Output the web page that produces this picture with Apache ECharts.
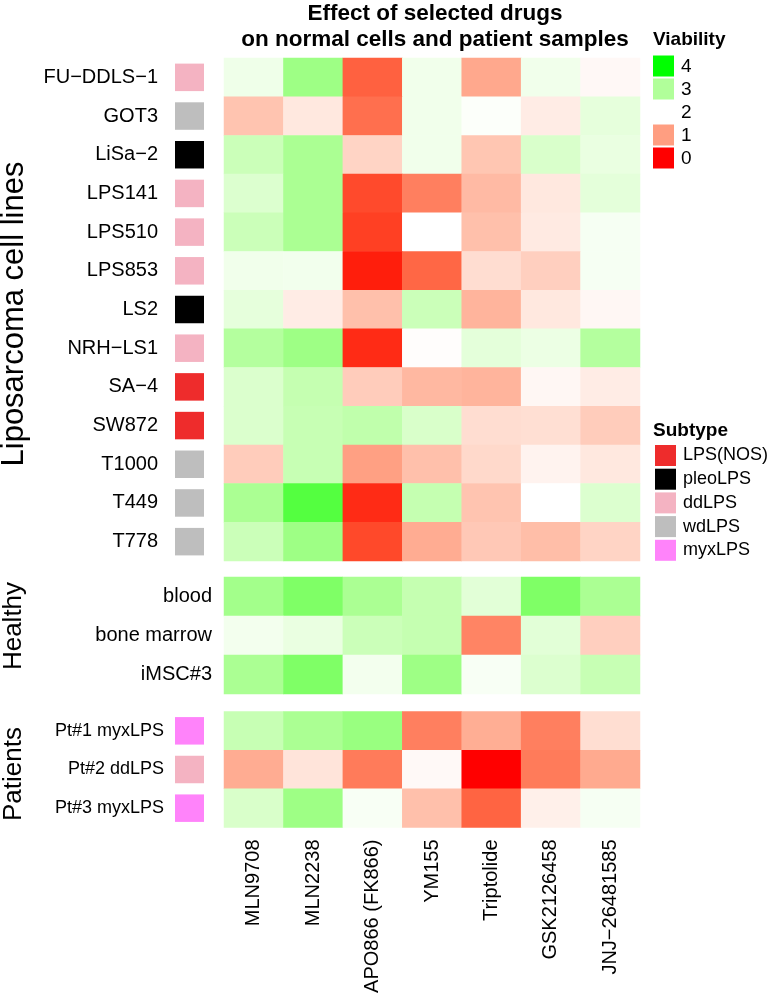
<!DOCTYPE html>
<html><head><meta charset="utf-8">
<script src="https://cdn.jsdelivr.net/npm/echarts@6/dist/echarts.min.js"></script>
<style>html,body{margin:0;padding:0;background:#fff}#c{width:771px;height:996px}</style>
</head><body><div id="c"></div>
<script>
// ---------------- data ----------------
const drugs = ['MLN9708', 'MLN2238', 'APO866 (FK866)', 'YM155', 'Triptolide', 'GSK2126458', 'JNJ\u221226481585'];
const cellLines = ['FU\u2212DDLS\u22121', 'GOT3', 'LiSa\u22122', 'LPS141', 'LPS510', 'LPS853', 'LS2', 'NRH\u2212LS1', 'SA\u22124', 'SW872', 'T1000', 'T449', 'T778'];
const cellLineSubtypes = ['ddLPS', 'wdLPS', 'pleoLPS', 'ddLPS', 'ddLPS', 'ddLPS', 'pleoLPS', 'ddLPS', 'LPS(NOS)', 'LPS(NOS)', 'wdLPS', 'wdLPS', 'wdLPS'];
const healthySamples = ['blood', 'bone marrow', 'iMSC#3'];
const patientSamples = ['Pt#1 myxLPS', 'Pt#2 ddLPS', 'Pt#3 myxLPS'];
const patientSubtypes = ['myxLPS', 'ddLPS', 'myxLPS'];
const subtypeNames = ['LPS(NOS)', 'pleoLPS', 'ddLPS', 'wdLPS', 'myxLPS'];
const groupTitles = ['Liposarcoma cell lines', 'Healthy', 'Patients'];
const viabilityTicks = [4, 3, 2, 1, 0];

// viability per row (columns follow drugs)
const cellLineValues = [
  [2.22, 3.20, 0.45, 2.20, 1.10, 2.20, 1.93],
  [1.38, 1.76, 0.57, 2.20, 2.05, 1.80, 2.35],
  [2.70, 3.07, 1.55, 2.20, 1.40, 2.52, 2.30],
  [2.48, 3.07, 0.28, 0.71, 1.28, 1.76, 2.37],
  [2.70, 3.07, 0.21, 2.00, 1.34, 1.78, 2.12],
  [2.20, 2.18, 0.06, 0.49, 1.64, 1.50, 2.12],
  [2.35, 1.80, 1.34, 2.70, 1.22, 1.76, 1.92],
  [2.97, 3.20, 0.11, 1.98, 2.37, 2.27, 2.97],
  [2.50, 2.78, 1.47, 1.26, 1.22, 1.92, 1.80],
  [2.50, 2.75, 2.83, 2.53, 1.64, 1.66, 1.47],
  [1.47, 2.75, 1.02, 1.34, 1.60, 1.88, 1.76],
  [3.07, 3.77, 0.11, 2.78, 1.38, 2.00, 2.48],
  [2.70, 3.20, 0.27, 1.14, 1.43, 1.32, 1.55]
];
const healthyValues = [
  [3.15, 3.48, 3.07, 2.78, 2.40, 3.48, 3.07],
  [2.17, 2.30, 2.70, 2.78, 0.75, 2.40, 1.50],
  [3.07, 3.48, 2.17, 3.20, 2.10, 2.48, 2.75]
];
const patientValues = [
  [2.75, 3.07, 3.25, 0.71, 1.16, 0.71, 1.65],
  [1.14, 1.72, 0.67, 1.94, 0.00, 0.67, 1.12],
  [2.53, 3.20, 2.10, 1.34, 0.47, 1.84, 2.12]
];

// ---------------- styles ----------------
const subtypeColors = {'LPS(NOS)': '#EE2C2C', 'pleoLPS': '#000000', 'ddLPS': '#F4B3C2', 'wdLPS': '#BEBEBE', 'myxLPS': '#FF83FA'};
const FONT = '"Liberation Sans", Arial, Helvetica, sans-serif';

// LAB colour ramp red(0) - white(2) - green(4)
function srgbToLin(c){c/=255;return c<=0.04045?c/12.92:Math.pow((c+0.055)/1.055,2.4);}
function linToSrgb(c){c=Math.max(0,Math.min(1,c));return Math.round(255*(c<=0.0031308?12.92*c:1.055*Math.pow(c,1/2.4)-0.055));}
function rgbToLab(r,g,b){
  const R=srgbToLin(r),G=srgbToLin(g),B=srgbToLin(b);
  let X=(0.4124*R+0.3576*G+0.1805*B)/0.95047, Y=(0.2126*R+0.7152*G+0.0722*B), Z=(0.0193*R+0.1192*G+0.9505*B)/1.08883;
  const f=t=>t>0.008856?Math.cbrt(t):7.787*t+16/116;
  const fx=f(X),fy=f(Y),fz=f(Z);
  return [116*fy-16,500*(fx-fy),200*(fy-fz)];
}
function labToRgb(L,a,b){
  const fy=(L+16)/116,fx=fy+a/500,fz=fy-b/200;
  const fi=t=>t*t*t>0.008856?t*t*t:(t-16/116)/7.787;
  const X=fi(fx)*0.95047,Y=fi(fy),Z=fi(fz)*1.08883;
  const R=3.2406*X-1.5372*Y-0.4986*Z, G=-0.9689*X+1.8758*Y+0.0415*Z, B=0.0557*X-0.2040*Y+1.0570*Z;
  const h=v=>('0'+linToSrgb(v).toString(16)).slice(-2);
  return '#'+h(R)+h(G)+h(B);
}
const labRed=rgbToLab(255,0,0), labWhite=rgbToLab(255,255,255), labGreen=rgbToLab(0,255,0);
function viabilityColor(v){
  let A,B,t;
  if(v<=2){A=labRed;B=labWhite;t=v/2;}else{A=labWhite;B=labGreen;t=(v-2)/2;}
  return labToRgb(A[0]+(B[0]-A[0])*t,A[1]+(B[1]-A[1])*t,A[2]+(B[2]-A[2])*t);
}
const rampStops=[];for(let i=0;i<=80;i++){rampStops.push(viabilityColor(i*4/80));}

// ---------------- layout ----------------
const HX = 224, HW = 416;
const panels = [
  {top: 58, height: 503, rows: cellLines, values: cellLineValues, subtypes: cellLineSubtypes, labelMargin: 17, fontSize: 20},
  {top: 577, height: 117, rows: healthySamples, values: healthyValues, subtypes: null, labelMargin: 12, fontSize: 20},
  {top: 711.5, height: 116, rows: patientSamples, values: patientValues, subtypes: patientSubtypes, labelMargin: 11, fontSize: 18}
];

const grid = [], xAxis = [], yAxis = [], series = [];
panels.forEach((p, pi) => {
  const labelStyle = {color: '#000', fontSize: p.fontSize, fontFamily: FONT};
  // heatmap grid
  const gi = grid.length;
  grid.push({left: HX, width: HW, top: p.top, height: p.height});
  xAxis.push({type: 'category', gridIndex: gi, data: drugs, position: 'bottom',
    axisLine: {show: false}, axisTick: {show: false}, splitLine: {show: false},
    axisLabel: pi === 2 ? {show: true, rotate: 90, margin: 12, color: '#000', fontSize: 20, fontFamily: FONT, interval: 0} : {show: false}});
  yAxis.push({type: 'category', gridIndex: gi, data: p.rows, inverse: true,
    axisLine: {show: false}, axisTick: {show: false}, splitLine: {show: false},
    axisLabel: p.subtypes ? {show: false} : Object.assign({margin: p.labelMargin, interval: 0}, labelStyle)});
  const data = [];
  p.values.forEach((row, r) => row.forEach((v, c) => data.push([c, r, v])));
  series.push({type: 'heatmap', name: groupTitles[pi], xAxisIndex: gi, yAxisIndex: gi, data: data,
    itemStyle: {borderWidth: 0}, emphasis: {disabled: true}, progressive: 0});
  // annotation grid
  if (p.subtypes) {
    const ai = grid.length;
    grid.push({left: 175, width: 29, top: p.top, height: p.height});
    xAxis.push({type: 'category', gridIndex: ai, data: ['Subtype'], show: false});
    yAxis.push({type: 'category', gridIndex: ai, data: p.rows, inverse: true,
      axisLine: {show: false}, axisTick: {show: false}, splitLine: {show: false},
      axisLabel: Object.assign({margin: p.labelMargin, interval: 0}, labelStyle)});
    subtypeNames.forEach(st => {
      const d = [];
      p.subtypes.forEach((s, r) => { if (s === st) d.push(['Subtype', p.rows[r]]); });
      if (!d.length) return;
      series.push({type: 'scatter', name: st, xAxisIndex: ai, yAxisIndex: ai, data: d,
        symbol: 'rect', symbolSize: [29, 27.5], itemStyle: {color: subtypeColors[st], opacity: 1},
        emphasis: {disabled: true}, silent: true});
    });
  }
});

// group titles (rotated)
const graphic = [];
const groupCenters = [{x: 14, y: 314}, {x: 14, y: 626}, {x: 14, y: 774}];
groupTitles.forEach((t, i) => {
  graphic.push({type: 'text', x: groupCenters[i].x, y: groupCenters[i].y, rotation: Math.PI / 2,
    style: {text: t, fontSize: i === 0 ? 31 : 26, fontFamily: FONT, fill: '#000', textAlign: 'center', textVerticalAlign: 'middle'}});
});
// Viability legend
graphic.push({type: 'text', x: 653, y: 40, style: {text: 'Viability', fontSize: 19, fontWeight: 'bold', fontFamily: FONT, fill: '#000', textAlign: 'left', textVerticalAlign: 'middle'}});
viabilityTicks.forEach((v, i) => {
  const y = 55.5 + i * 23;
  graphic.push({type: 'rect', shape: {x: 653, y: y, width: 21, height: 21}, style: {fill: viabilityColor(v)}});
  graphic.push({type: 'text', x: 681, y: y + 11, style: {text: String(v), fontSize: 19, fontFamily: FONT, fill: '#000', textAlign: 'left', textVerticalAlign: 'middle'}});
});
// Subtype legend title
graphic.push({type: 'text', x: 653, y: 431, style: {text: 'Subtype', fontSize: 19, fontWeight: 'bold', fontFamily: FONT, fill: '#000', textAlign: 'left', textVerticalAlign: 'middle'}});

const option = {
  animation: false,
  backgroundColor: '#fff',
  title: {text: 'Effect of selected drugs\non normal cells and patient samples', left: 435, top: 1, padding: 0, textAlign: 'center',
    textStyle: {fontSize: 22.5, fontWeight: 'bold', fontFamily: FONT, color: '#000', lineHeight: 26}},
  grid: grid, xAxis: xAxis, yAxis: yAxis, series: series,
  visualMap: {type: 'continuous', show: false, min: 0, max: 4, seriesIndex: series.map((s, i) => s.type === 'heatmap' ? i : -1).filter(i => i >= 0),
    inRange: {color: rampStops}},
  legend: {data: subtypeNames, orient: 'vertical', left: 655, top: 445, icon: 'rect', itemWidth: 21, itemHeight: 21, itemGap: 2.7,
    selectedMode: false, padding: 0, textStyle: {fontSize: 18, fontFamily: FONT, color: '#000', padding: [0, 0, 0, 2]}},
  graphic: graphic
};
const chart = echarts.init(document.getElementById('c'), null, {renderer: 'canvas'});
chart.setOption(option);
</script></body></html>
